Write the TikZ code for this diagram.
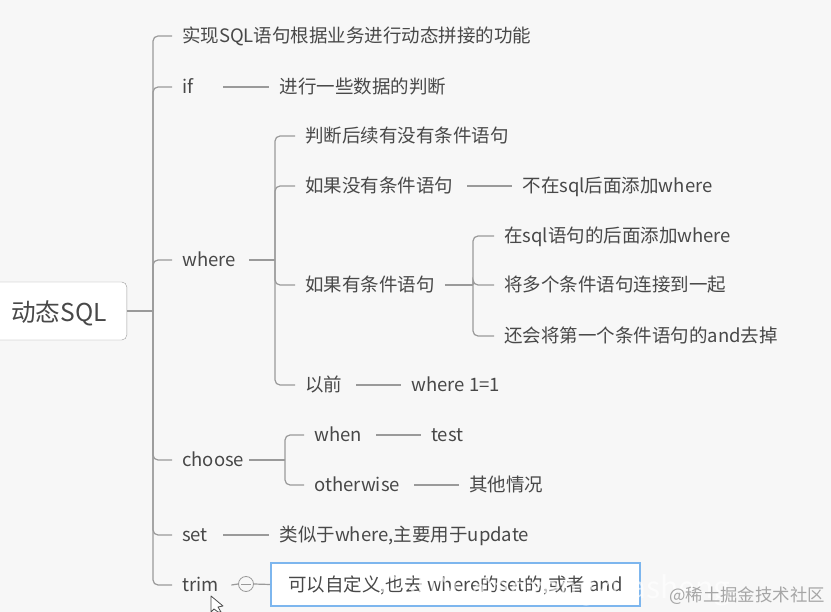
\documentclass[tikz,border=0pt]{standalone}
\usepackage{xcolor}
\usepackage{fontspec}
\setmainfont{Noto Sans CJK SC}
\usetikzlibrary{positioning}
\definecolor{pagebg}{HTML}{F7F7F7}
\definecolor{inktext}{HTML}{484848}
\definecolor{linkgray}{HTML}{9A9A9A}
\definecolor{selblue}{HTML}{7DB6EE}

\begin{document}
\begin{tikzpicture}[
    x=1pt, y=-1pt,
    node distance=49pt and 49pt,
    topic/.style={inner xsep=10pt, inner ysep=0pt, text height=15pt, text depth=2pt, text=inktext, anchor=west, font=\fontsize{18.5}{20}\selectfont},
    fixedtopic/.style={topic, align=left, text width=#1},
    rootbox/.style={rectangle, draw=linkgray, fill=white, rounded corners=5pt, text=inktext, font=\fontsize{24.6}{26}\selectfont},
    line/.style={draw=linkgray, line width=1.2pt, rounded corners=5pt},
    leafline/.style={line, shorten <=4pt}
]
    \fill [pagebg] (0,0) rectangle (831,612);
    \useasboundingbox (0,0) rectangle (831,612);

    \node [rootbox, anchor=east, minimum height=58pt, inner xsep=20pt, text height=25pt, text depth=3pt] (root) at (127,311) {动态SQL};

    \node [topic] (intro) at (172,36) {实现SQL语句根据业务进行动态拼接的功能};
    \node [fixedtopic=31pt] (if) at (172,87) {if};
    \node [topic, right=46pt of if] (ifnote) {进行一些数据的判断};
    \node [fixedtopic=57pt] (where) at (172,260) {where};
    \node [fixedtopic=57pt] (choose) at (172,460) {choose};
    \node [fixedtopic=31pt] (set) at (172,535) {set};
    \node [topic, right=46pt of set] (setnote) {类似于where,主要用于update};
    \node [fixedtopic=39pt] (trim) at (172,585) {trim};

    \node [topic] (judge) at (295,136) {判断后续有没有条件语句};
    \node [topic] (nocond) at (295,186) {如果没有条件语句};
    \node [topic, right=of nocond] (nocondnote) {不在sql后面添加where};
    \node [topic] (hascond) at (295,285) {如果有条件语句};
    \node [topic] (before) at (295,385) {以前};
    \node [topic, right=of before] (beforenote) {where 1=1};

    \node [topic] (addwhere) at (494,236) {在sql语句的后面添加where};
    \node [topic] (joinall) at (494,285) {将多个条件语句连接到一起};
    \node [topic] (dropand) at (494,336) {还会将第一个条件语句的and去掉};

    \node [topic] (when) at (304,435) {when};
    \node [topic, right=of when] (test) {test};
    \node [topic] (otherwise) at (304,485) {otherwise};
    \node [topic, right=of otherwise] (otherinfo) {其他情况};

    \node [circle, draw=linkgray, fill=pagebg, line width=0.8pt, minimum size=15pt, inner sep=0pt] (trimfold) at (246,584) {};
    \node [rectangle, draw=selblue, fill=white, line width=2pt, minimum width=369pt, minimum height=43pt, text=inktext, inner sep=0pt, text height=15pt, text depth=2pt, font=\fontsize{18.5}{20}\selectfont] (trimbox) at (455.5,584.5) {可以自定义,也去 where的set的,或者 and};

    \coordinate (rootspine) at (153,311);
    \coordinate (wherespine) at (275,260);
    \coordinate (condspine) at (473,285);
    \coordinate (choosespine) at (285,460);

    % first level
    \path [line] (root.east) -- (rootspine);
    \foreach \child in {intro,if,where,choose,set,trim}
        \path [line] (rootspine) |- (\child.west);

    % where branch
    \path [line] (where.east) -- (wherespine);
    \foreach \child in {judge,nocond,hascond,before}
        \path [line] (wherespine) |- (\child.west);
    \path [line] (hascond.east) -- (condspine);
    \foreach \child in {addwhere,joinall,dropand}
        \path [line] (condspine) |- (\child.west);

    % choose branch
    \path [line] (choose.east) -- (choosespine);
    \foreach \child in {when,otherwise}
        \path [line] (choosespine) |- (\child.west);

    % leaves
    \path [line] (if.east) -- (ifnote.west);
    \path [line] (set.east) -- (setnote.west);
    \path [leafline] (nocond.east) -- (nocondnote.west);
    \path [leafline] (before.east) -- (beforenote.west);
    \path [leafline] (when.east) -- (test.west);
    \path [leafline] (otherwise.east) -- (otherinfo.west);
    \path [line] (trim.east) -- (trimfold.west);
    \path [line] (trimfold.east) -- (trimbox.west);
    \draw [linkgray, line width=0.8pt] ([xshift=3pt]trimfold.west) -- ([xshift=-3pt]trimfold.east);

    \node [text=white, opacity=0.65, anchor=west, inner sep=0pt, font=\fontsize{30}{34}\selectfont] (csdnmark) at (380,590) {CSDN @aqzengkuasheng};
    \node [text=black!35, anchor=east, inner sep=0pt, font=\fontsize{17.4}{20}\selectfont] (juejinmark) at (825,596) {@稀土掘金技术社区};

    % mouse pointer
    \draw [black!70, fill=white, line width=0.8pt, line join=round] (211,596) -- (211,612) -- (214,609) -- (218,612) -- (221,612) -- (218,607) -- (223,606) -- cycle;
\end{tikzpicture}
\end{document}
